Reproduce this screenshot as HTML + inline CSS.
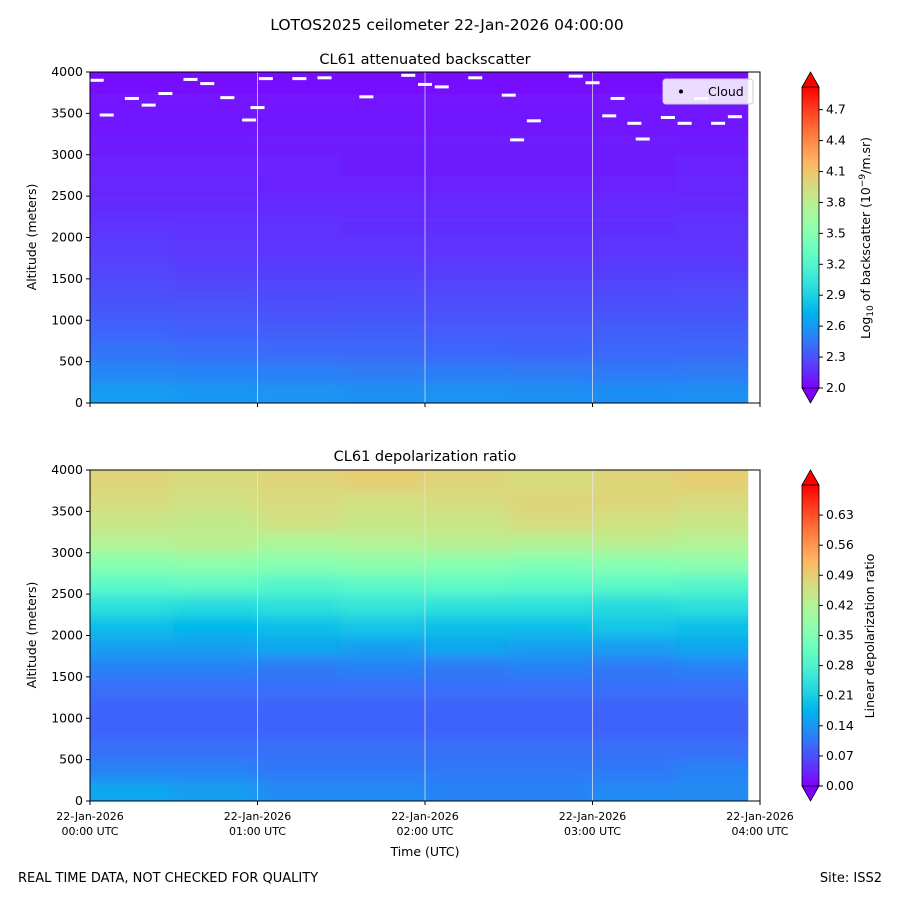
<!DOCTYPE html>
<html><head><meta charset="utf-8">
<style>
body{margin:0;background:#fff;}
svg text{font-family:"DejaVu Sans","Liberation Sans",sans-serif;fill:#000;}
</style></head>
<body>
<svg id="fig" width="900" height="900" viewBox="0 0 900 900" xmlns="http://www.w3.org/2000/svg">
<defs>
<filter id="blur" x="-5%" y="-5%" width="110%" height="110%"><feGaussianBlur stdDeviation="8 6"/></filter>
<clipPath id="clipTop"><rect x="90" y="72" width="670" height="331"/></clipPath>
<clipPath id="clipBot"><rect x="90" y="470" width="670" height="331"/></clipPath>
<linearGradient id="cbGradTop" x1="0" y1="1" x2="0" y2="0"></linearGradient>
<linearGradient id="cbGradBot" x1="0" y1="1" x2="0" y2="0"></linearGradient>
</defs>
<text x="447" y="30" font-size="15.5" text-anchor="middle">LOTOS2025 ceilometer 22-Jan-2026 04:00:00</text>
<text x="425" y="64" font-size="14.5" text-anchor="middle">CL61 attenuated backscatter</text>
<text x="425" y="461" font-size="14.5" text-anchor="middle">CL61 depolarization ratio</text>
<g id="top"></g>
<g id="bot"></g>
<text x="18" y="882" font-size="13">REAL TIME DATA, NOT CHECKED FOR QUALITY</text>
<text x="882" y="882" font-size="13" text-anchor="end">Site: ISS2</text>
<text x="425" y="856" font-size="12.5" text-anchor="middle">Time (UTC)</text>
</svg>
<script>
// ---- data ----
const altitudes = [0,250,500,750,1000,1250,1500,1750,2000,2250,2500,2750,3000,3250,3500,3750]; // row bottoms (m)
const timeCols = [0,0.5,1,1.5,2,2.5,3,3.5]; // column starts (h)
const dataEnd = 3.93;
const backscatter = [
 [2.62,2.60,2.58,2.56,2.57,2.56,2.55,2.56],
 [2.52,2.50,2.49,2.47,2.48,2.47,2.46,2.47],
 [2.44,2.42,2.40,2.40,2.39,2.38,2.39,2.40],
 [2.38,2.36,2.35,2.35,2.34,2.34,2.35,2.35],
 [2.33,2.32,2.30,2.31,2.30,2.30,2.31,2.31],
 [2.29,2.28,2.27,2.27,2.26,2.26,2.27,2.28],
 [2.25,2.24,2.23,2.23,2.22,2.22,2.23,2.23],
 [2.22,2.21,2.20,2.20,2.19,2.19,2.20,2.20],
 [2.19,2.18,2.18,2.17,2.17,2.17,2.17,2.18],
 [2.16,2.16,2.15,2.15,2.15,2.15,2.15,2.16],
 [2.14,2.14,2.13,2.13,2.13,2.13,2.13,2.14],
 [2.12,2.12,2.12,2.11,2.11,2.11,2.11,2.12],
 [2.10,2.10,2.10,2.10,2.10,2.10,2.10,2.10],
 [2.09,2.09,2.08,2.08,2.08,2.08,2.08,2.09],
 [2.07,2.07,2.07,2.07,2.07,2.07,2.07,2.07],
 [2.05,2.05,2.05,2.05,2.05,2.05,2.05,2.05]
];
const depol = [
 [0.16,0.15,0.13,0.13,0.12,0.12,0.13,0.13],
 [0.12,0.12,0.11,0.11,0.11,0.11,0.11,0.12],
 [0.10,0.10,0.10,0.10,0.10,0.10,0.10,0.10],
 [0.09,0.09,0.09,0.09,0.09,0.09,0.09,0.09],
 [0.09,0.09,0.09,0.09,0.09,0.09,0.09,0.09],
 [0.10,0.10,0.10,0.10,0.10,0.10,0.10,0.10],
 [0.12,0.12,0.11,0.12,0.11,0.12,0.11,0.12],
 [0.15,0.15,0.16,0.15,0.16,0.15,0.15,0.16],
 [0.19,0.18,0.19,0.20,0.19,0.19,0.20,0.19],
 [0.24,0.23,0.24,0.25,0.24,0.24,0.23,0.24],
 [0.30,0.31,0.29,0.30,0.31,0.30,0.30,0.29],
 [0.36,0.37,0.36,0.37,0.36,0.35,0.36,0.37],
 [0.42,0.43,0.41,0.42,0.43,0.42,0.43,0.42],
 [0.45,0.44,0.46,0.45,0.45,0.47,0.46,0.45],
 [0.47,0.46,0.47,0.46,0.47,0.48,0.48,0.47],
 [0.48,0.47,0.48,0.49,0.48,0.47,0.48,0.49]
];
const cloudT = [0.04,0.1,0.25,0.35,0.45,0.6,0.7,0.82,0.95,1.0,1.05,1.25,1.4,1.65,1.9,2.0,2.1,2.3,2.5,2.55,2.65,2.9,3.0,3.1,3.15,3.25,3.3,3.45,3.55,3.65,3.75,3.85];
const cloudA = [3900,3480,3680,3600,3740,3910,3860,3690,3420,3570,3920,3920,3930,3700,3960,3850,3820,3930,3720,3180,3410,3950,3870,3470,3680,3380,3190,3450,3380,3680,3380,3460];
const bsTicks = [2.0,2.3,2.6,2.9,3.2,3.5,3.8,4.1,4.4,4.7];
const bsTickLabels = ["2.0","2.3","2.6","2.9","3.2","3.5","3.8","4.1","4.4","4.7"];
const dpTicks = [0,0.07,0.14,0.21,0.28,0.35,0.42,0.49,0.56,0.63];
const dpTickLabels = ["0.00","0.07","0.14","0.21","0.28","0.35","0.42","0.49","0.56","0.63"];
const altTicks = [0,500,1000,1500,2000,2500,3000,3500,4000];
const timeTicks = [0,1,2,3,4];
const timeTickLabels = [["22-Jan-2026","00:00 UTC"],["22-Jan-2026","01:00 UTC"],["22-Jan-2026","02:00 UTC"],["22-Jan-2026","03:00 UTC"],["22-Jan-2026","04:00 UTC"]];

const NS="http://www.w3.org/2000/svg";
function mk(tag,attrs,parent){const e=document.createElementNS(NS,tag);for(const k in attrs)e.setAttribute(k,attrs[k]);parent.appendChild(e);return e;}
function rainbow(x){x=Math.max(0,Math.min(1,x));
 const r=Math.min(1,Math.abs(2*x-0.5)), g=Math.sin(x*Math.PI), b=Math.cos(x*Math.PI/2);
 return `rgb(${Math.round(r*255)},${Math.round(g*255)},${Math.round(b*255)})`;}
const X0=90,X1=760;
const xs=t=>X0+t/4*(X1-X0);

function panel(g,top,vals,vmin,vmax,clip,ticks,tickLabels,gradId,clouds){
 const bot=top+331;
 const ys=a=>bot-a/4000*331;
 const cs=v=>(v-vmin)/(vmax-vmin);
 const heat=mk('g',{'clip-path':`url(#${clip})`},g);
 const inner=mk('g',{filter:'url(#blur)'},heat);
 for(let i=0;i<altitudes.length;i++){
  for(let j=0;j<timeCols.length;j++){
   const t0=timeCols[j], t1=j+1<timeCols.length?timeCols[j+1]:dataEnd+0.1;
   const a0=i===0?-300:altitudes[i], a1=i+1<altitudes.length?altitudes[i+1]:4300;
   const tt0=j===0?-0.1:t0;
   const r=mk('rect',{x:xs(tt0)-1,y:ys(a1)-1,width:xs(t1)-xs(tt0)+2,height:ys(a0)-ys(a1)+2,fill:rainbow(cs(vals[i][j]))},inner);
   
   
  }
 }
 mk('rect',{x:xs(dataEnd),y:top,width:X1-xs(dataEnd),height:331,fill:'#fff'},heat);
 [1,2,3].forEach(h=>mk('line',{x1:xs(h),x2:xs(h),y1:top,y2:bot,stroke:'#e8e8e8','stroke-width':1,opacity:0.7},heat));
 if(clouds){
  for(let k=0;k<cloudT.length;k++){
   const c=mk('rect',{x:xs(cloudT[k])-7,y:ys(cloudA[k])-1.5,width:14,height:3,fill:'#fff'},heat);
   
   
  }
 }
 mk('rect',{x:X0,y:top,width:X1-X0,height:331,fill:'none',stroke:'#000','stroke-width':1},g);
 altTicks.forEach(a=>{
  mk('line',{x1:X0-4,x2:X0,y1:ys(a),y2:ys(a),stroke:'#000'},g);
  const t=mk('text',{x:X0-7,y:ys(a)+4,'font-size':12.5,'text-anchor':'end'},g);t.textContent=a;
  
  
 });
 const yt=mk('text',{x:0,y:0,'font-size':12.5,'text-anchor':'middle',transform:`translate(36,${top+165}) rotate(-90)`},g);
 yt.textContent='Altitude (meters)';
 
 
 timeTicks.forEach(h=>mk('line',{x1:xs(h),x2:xs(h),y1:bot,y2:bot+4,stroke:'#000'},g));
 const cx=802,cw=17,cTop=top+15,cBot=bot-15;
 const grad=document.getElementById(gradId);
 for(let s=0;s<=20;s++){mk('stop',{offset:s/20,'stop-color':rainbow(s/20)},grad);}
 const cb=mk('g',{},g);
 
 
 mk('rect',{x:cx,y:cTop,width:cw,height:cBot-cTop,fill:`url(#${gradId})`},cb);
 mk('polygon',{points:`${cx},${cTop} ${cx+cw},${cTop} ${cx+cw/2},${top}`,fill:rainbow(1),stroke:'#000','stroke-width':0.8},cb);
 mk('polygon',{points:`${cx},${cBot} ${cx+cw},${cBot} ${cx+cw/2},${bot}`,fill:rainbow(0),stroke:'#000','stroke-width':0.8},cb);
 mk('line',{x1:cx,x2:cx,y1:cTop,y2:cBot,stroke:'#000','stroke-width':0.8},cb);
 mk('line',{x1:cx+cw,x2:cx+cw,y1:cTop,y2:cBot,stroke:'#000','stroke-width':0.8},cb);
 const cys=v=>cBot-cs(v)*(cBot-cTop);
 ticks.forEach((v,i)=>{
  mk('line',{x1:cx+cw,x2:cx+cw+4,y1:cys(v),y2:cys(v),stroke:'#000'},cb);
  const t=mk('text',{x:cx+cw+7,y:cys(v)+4,'font-size':12.5},cb);t.textContent=tickLabels[i];
 });
}
const gt=document.getElementById('top'), gb=document.getElementById('bot');
panel(gt,72,backscatter,2.0,4.92,'clipTop',bsTicks,bsTickLabels,'cbGradTop',true);
panel(gb,470,depol,0,0.7,'clipBot',dpTicks,dpTickLabels,'cbGradBot',false);
timeTicks.forEach((h,i)=>{
 const t=mk('text',{x:xs(h),y:820,'font-size':11,'text-anchor':'middle'},gb);t.textContent=timeTickLabels[i][0];
 
 
 const t2=mk('text',{x:xs(h),y:835,'font-size':11,'text-anchor':'middle'},gb);t2.textContent=timeTickLabels[i][1];
});
const l1=mk('text',{x:0,y:0,'font-size':12.5,'text-anchor':'middle',transform:'translate(870,238) rotate(-90)'},gt);
l1.innerHTML='Log<tspan font-size="9" dy="3">10</tspan><tspan dy="-3"> of backscatter (10</tspan><tspan font-size="9" dy="-5">−9</tspan><tspan dy="5">/m.sr)</tspan>';


const l2=mk('text',{x:0,y:0,'font-size':12.5,'text-anchor':'middle',transform:'translate(874,636) rotate(-90)'},gb);
l2.textContent='Linear depolarization ratio';


const lg=mk('g',{},gt);


mk('rect',{x:663,y:79,width:90,height:25,rx:3,fill:'#fff','fill-opacity':0.85,stroke:'#ccc'},lg);
mk('circle',{cx:681,cy:91.5,r:2,fill:'#000'},lg);
const lt=mk('text',{x:708,y:96,'font-size':12.5},lg);lt.textContent='Cloud';
</script>
</body></html>
